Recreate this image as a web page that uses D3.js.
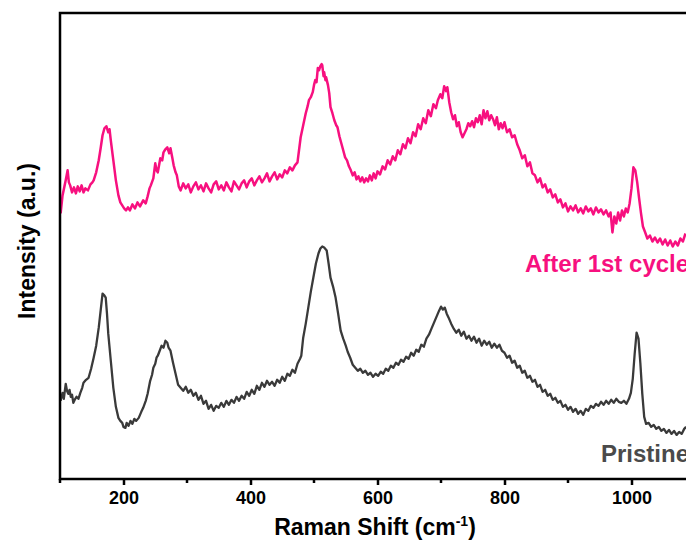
<!DOCTYPE html>
<html>
<head>
<meta charset="utf-8">
<script src="https://cdn.jsdelivr.net/npm/d3@7"></script>
<style>
  body { margin: 0; background: #fff; }
  svg { display: block; }
</style>
</head>
<body>
<div id="chart"></div>
<script>
// Raman spectra: [shift in cm-1, intensity a.u.]
var afterCycle = [
  [101,265],[104,283],[107,292],[109,298],[112,308],[114,296],[116,293],[119,286],[122,291],[125,285],
  [128,292],[131,287],[134,293],[137,286],[140,290],[144,288],[148,294],[151,296],[153,298],[157,306],
  [161,318],[164,330],[167,343],[170,350],[173,352],[176,346],[178,349],[180,338],[184,318],[188,298],
  [192,283],[195,276],[198,273],[201,270],[204,268],[207,271],[210,268],[214,274],[218,270],[222,276],
  [226,272],[231,278],[235,275],[238,282],[241,290],[243,293],[247,300],[250,315],[252,308],[254,306],
  [258,320],[261,318],[263,326],[266,329],[269,331],[272,325],[274,330],[277,320],[279,313],[282,306],
  [284,303],[287,292],[290,288],[294,295],[298,290],[302,294],[306,286],[310,292],[314,296],[318,289],
  [322,293],[326,287],[330,295],[334,290],[338,286],[342,294],[346,297],[350,289],[354,293],[358,288],
  [362,296],[366,291],[370,287],[374,297],[378,293],[382,289],[386,295],[390,298],[394,291],[398,297],
  [402,300],[406,293],[410,298],[414,302],[418,296],[422,300],[426,305],[430,297],[434,302],[438,306],
  [442,299],[446,304],[450,301],[454,308],[458,305],[462,311],[466,308],[470,313],[474,316],[479,341],
  [483,353],[487,365],[490,372],[492,378],[495,381],[498,386],[500,393],[502,398],[504,396],[506,410],
  [508,408],[510,412],[512,414],[513,413],[515,402],[516,406],[518,398],[519,401],[522,393],[524,385],
  [526,371],[529,365],[532,358],[535,353],[537,351],[540,342],[543,335],[546,328],[549,321],[552,318],
  [555,312],[558,308],[561,303],[564,306],[567,299],[570,302],[573,297],[576,301],[579,296],[582,300],
  [585,297],[588,303],[591,298],[594,305],[597,300],[600,307],[604,304],[608,312],[612,309],[616,318],
  [620,314],[624,322],[628,318],[632,328],[636,324],[640,334],[644,330],[648,340],[652,335],[656,346],
  [660,342],[664,354],[668,349],[672,360],[676,355],[680,368],[684,362],[688,374],[692,370],[695,378],
  [699,384],[702,380],[705,392],[708,387],[710,391],[713,376],[716,366],[719,359],[722,363],[725,352],
  [728,356],[731,346],[734,341],[737,345],[740,349],[743,355],[746,352],[749,357],[752,351],[755,360],
  [758,356],[761,363],[764,354],[767,368],[770,360],[773,367],[776,358],[779,363],[782,359],[785,353],
  [788,361],[791,349],[794,355],[797,350],[800,356],[804,346],[808,349],[812,341],[816,343],[820,334],
  [824,328],[828,320],[832,323],[836,312],[840,316],[844,305],[848,303],[852,296],[856,300],[860,291],
  [864,294],[868,286],[872,289],[876,281],[880,284],[884,276],[888,279],[892,271],[896,275],[900,267],
  [904,272],[908,268],[912,273],[916,266],[920,270],[924,265],[928,272],[932,267],[936,270],[940,264],
  [944,271],[948,266],[952,269],[956,264],[960,268],[964,262],[967,266],[970,246],[973,262],[976,255],
  [979,266],[982,258],[985,268],[988,262],[991,270],[994,266],[997,275],[1000,290],[1003,311],[1006,308],
  [1009,296],[1012,280],[1015,265],[1018,252],[1021,247],[1025,240],[1029,243],[1033,237],[1037,241],[1041,236],
  [1045,240],[1049,234],[1053,239],[1057,233],[1061,238],[1065,232],[1069,237],[1073,233],[1077,240],[1081,237],
  [1085,245]
];

var pristine = [
  [101,78],[104,86],[106,80],[109,95],[111,88],[113,85],[115,89],[117,82],[119,84],[121,76],
  [124,80],[126,82],[129,80],[132,86],[135,91],[137,96],[141,99],[145,101],[149,110],[153,121],
  [157,133],[161,151],[164,168],[167,185],[170,183],[172,181],[174,165],[176,145],[180,118],[184,91],
  [188,72],[192,61],[195,58],[198,56],[200,52],[203,51],[205,56],[208,53],[211,58],[214,55],
  [217,60],[220,58],[224,61],[228,67],[231,71],[235,78],[238,85],[242,98],[245,104],[247,111],
  [250,115],[252,121],[254,123],[257,128],[260,133],[263,131],[266,138],[269,136],[271,131],[274,128],
  [278,116],[282,105],[286,94],[290,91],[294,88],[298,92],[302,86],[306,89],[310,83],[314,86],
  [318,79],[322,83],[326,75],[330,78],[334,70],[338,74],[342,68],[346,73],[350,71],[354,76],
  [358,72],[362,78],[366,74],[370,79],[374,76],[378,82],[382,78],[386,83],[390,80],[394,87],
  [398,83],[402,89],[406,85],[410,93],[414,89],[418,96],[422,92],[426,98],[430,94],[434,97],
  [438,93],[442,99],[446,96],[450,102],[454,98],[458,105],[462,103],[466,109],[470,106],[474,115],
  [478,120],[480,123],[483,141],[487,155],[491,171],[495,187],[499,201],[503,215],[507,225],[510,230],
  [513,232],[516,231],[520,228],[523,215],[526,201],[530,192],[534,181],[538,165],[542,148],[546,140],
  [550,133],[553,127],[557,121],[561,114],[565,111],[569,108],[573,110],[577,106],[581,108],[585,104],
  [589,106],[593,102],[597,105],[601,103],[605,107],[609,105],[613,110],[617,108],[621,113],[625,111],
  [629,116],[633,114],[637,119],[641,117],[645,122],[649,120],[653,126],[657,123],[661,129],[665,127],
  [669,134],[673,132],[677,140],[681,144],[685,150],[689,156],[693,162],[697,168],[700,172],[703,169],
  [706,171],[709,165],[712,161],[716,155],[720,150],[724,146],[728,149],[732,143],[736,147],[740,140],
  [744,143],[748,138],[752,142],[756,136],[760,140],[764,133],[768,138],[772,134],[776,137],[780,131],
  [784,135],[788,131],[792,134],[796,128],[800,126],[804,121],[808,123],[812,116],[816,118],[820,111],
  [824,113],[828,106],[832,108],[836,101],[840,103],[844,97],[848,99],[852,92],[856,94],[860,87],
  [864,89],[868,83],[872,85],[876,79],[880,81],[884,76],[888,78],[892,72],[896,74],[900,69],
  [904,72],[908,67],[912,70],[916,65],[920,68],[924,64],[928,70],[932,68],[936,73],[940,71],
  [944,75],[948,73],[952,77],[956,74],[960,78],[964,75],[968,79],[972,76],[976,80],[980,77],
  [984,76],[988,78],[992,75],[996,80],[999,86],[1002,100],[1005,125],[1008,146],[1011,140],[1014,115],
  [1017,85],[1020,62],[1023,55],[1027,56],[1031,52],[1035,54],[1039,50],[1043,52],[1047,48],[1051,50],
  [1055,46],[1059,49],[1063,45],[1067,48],[1071,44],[1075,47],[1079,45],[1083,50],[1086,52]
];

var xTicks = [200, 400, 600, 800, 1000];
var xMinor = [100, 300, 500, 700, 900, 1100];

var seriesNames = ["After 1st cycle", "Pristine"];
var seriesColors = ["#f7107f", "#3a3a3a"];
var labelColors = ["#f7107f", "#4a4a4a"];

var width = 686, height = 546;
var margin = {left: 60, top: 13, right: -9, bottom: 67};
var fontFamily = "'Liberation Sans', Arial, sans-serif";

var svg = d3.select("#chart").append("svg")
    .attr("width", width)
    .attr("height", height);

var x = d3.scaleLinear()
    .domain([100, 1100])
    .range([margin.left, width - margin.right]);

var y = d3.scaleLinear()
    .domain([0, 465])
    .range([height - margin.bottom, margin.top]);

svg.append("clipPath").attr("id", "plot-clip")
  .append("rect")
    .attr("x", margin.left)
    .attr("y", margin.top)
    .attr("width", x(1100) - margin.left)
    .attr("height", y(0) - margin.top);

var line = d3.line()
    .x(function(d) { return x(d[0]); })
    .y(function(d) { return y(d[1]); });

var series = [afterCycle, pristine];

svg.append("g").attr("clip-path", "url(#plot-clip)")
  .selectAll("path")
  .data(series)
  .join("path")
    .attr("d", line)
    .attr("fill", "none")
    .attr("stroke", function(d, i) { return seriesColors[i]; })
    .attr("stroke-width", function(d, i) { return i == 0 ? 2.5 : 2.3; })
    .attr("stroke-linejoin", "round");

// bottom axis, major ticks with labels
var xAxis = svg.append("g")
    .attr("transform", "translate(0," + y(0) + ")")
    .call(d3.axisBottom(x).tickValues(xTicks).tickFormat(d3.format("d"))
      .tickSize(6).tickPadding(6).tickSizeOuter(0));
xAxis.select(".domain").remove();
xAxis.selectAll(".tick line").attr("stroke", "#000").attr("stroke-width", 2.5);
xAxis.selectAll(".tick text")
    .attr("fill", "#000")
    .style("font-family", fontFamily)
    .style("font-weight", "bold")
    .style("font-size", "18px");

// minor ticks
svg.append("g")
  .selectAll("line")
  .data(xMinor)
  .join("line")
    .attr("x1", function(d) { return x(d); })
    .attr("x2", function(d) { return x(d); })
    .attr("y1", y(0))
    .attr("y2", y(0) + 4)
    .attr("stroke", "#000")
    .attr("stroke-width", 2.5);

// frame
svg.append("rect")
    .attr("x", margin.left)
    .attr("y", margin.top)
    .attr("width", x(1100) - margin.left)
    .attr("height", y(0) - margin.top)
    .attr("fill", "none")
    .attr("stroke", "#000")
    .attr("stroke-width", 2.5);

// axis titles
var xTitle = svg.append("text")
    .attr("x", 375)
    .attr("y", 535)
    .attr("text-anchor", "middle")
    .style("font-family", fontFamily)
    .style("font-weight", "bold")
    .style("font-size", "23px")
    .attr("fill", "#000");
xTitle.append("tspan").text("Raman Shift (cm");
xTitle.append("tspan").attr("dy", -9).style("font-size", "14px").text("-1");
xTitle.append("tspan").attr("dy", 9).text(")");

svg.append("text")
    .attr("transform", "translate(35,241) rotate(-90)")
    .attr("text-anchor", "middle")
    .style("font-family", fontFamily)
    .style("font-weight", "bold")
    .style("font-size", "23px")
    .attr("fill", "#000")
    .text("Intensity (a.u.)");

// curve labels
var labelPos = [[525, 272], [601, 462]];
svg.selectAll(".series-label")
  .data(seriesNames)
  .join("text")
    .attr("class", "series-label")
    .attr("x", function(d, i) { return labelPos[i][0]; })
    .attr("y", function(d, i) { return labelPos[i][1]; })
    .attr("fill", function(d, i) { return labelColors[i]; })
    .style("font-family", fontFamily)
    .style("font-weight", "bold")
    .style("font-size", "24px")
    .text(function(d) { return d; });
</script>
</body>
</html>
